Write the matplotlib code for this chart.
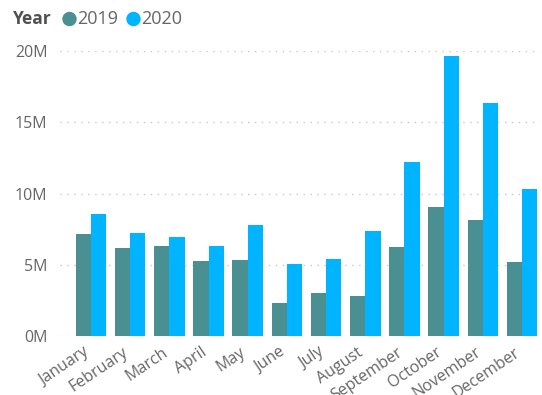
import matplotlib
matplotlib.use("Agg")
import matplotlib.pyplot as plt
import numpy as np
from matplotlib.ticker import FuncFormatter

months = ["January", "February", "March", "April", "May", "June", "July",
          "August", "September", "October", "November", "December"]
sales_2019 = [7.14, 6.15, 6.29, 5.26, 5.35, 2.29, 3.00, 2.83, 6.27, 9.03, 8.14, 5.19]
sales_2020 = [8.54, 7.23, 6.95, 6.34, 7.77, 5.03, 5.38, 7.39, 12.21, 19.67, 16.33, 10.34]
y_ticks = [0, 5, 10, 15, 20]

c2019 = "#4A8F91"
c2020 = "#01B4FF"
txt = "#666666"

plt.rcParams['font.family'] = ['Open Sans', 'DejaVu Sans']

fig = plt.figure(figsize=(5.42, 3.95), dpi=100)
ax = fig.add_axes([60/542, 1-336/395, 480/542, (336-51)/395])

x = np.arange(len(months))
w = 0.39
ax.bar(x - w/2, sales_2019, width=w, color=c2019, linewidth=0)
ax.bar(x + w/2, sales_2020, width=w, color=c2020, linewidth=0)

ax.set_xlim(-0.79, 11.46)
ax.set_ylim(0, 20)
ax.set_yticks(y_ticks)
ax.yaxis.set_major_formatter(FuncFormatter(lambda v, p: f"{int(v)}M"))
ax.grid(axis='y', color='#C8C8C8', linestyle=(0, (1, 4)), linewidth=1)
ax.set_axisbelow(True)
for s in ax.spines.values():
    s.set_visible(False)
ax.tick_params(axis='both', length=0, colors=txt, labelsize=11.5)
ax.tick_params(axis='y', pad=9)
# labels anchored slightly left of each category centre
ax.set_xticks(x - 0.2)
ax.set_xticklabels(months, rotation=34, ha='right', va='top', rotation_mode='anchor')
ax.tick_params(axis='x', pad=6)

# legend
ly = 1 - 19/395
fig.text(13/542, ly, "Year", fontsize=12.5, fontweight='bold', color='#505050', va='center')
fig.patches.append(matplotlib.patches.Ellipse((69.5/542, ly), 13/542, 13/395, transform=fig.transFigure,
                                              color=c2019, figure=fig))
fig.text(77/542, ly, "2019", fontsize=13, color=txt, va='center')
fig.patches.append(matplotlib.patches.Ellipse((133.5/542, ly), 13/542, 13/395, transform=fig.transFigure,
                                              color=c2020, figure=fig))
fig.text(141/542, ly, "2020", fontsize=13, color=txt, va='center')

fig.savefig("out.png", dpi=100)
